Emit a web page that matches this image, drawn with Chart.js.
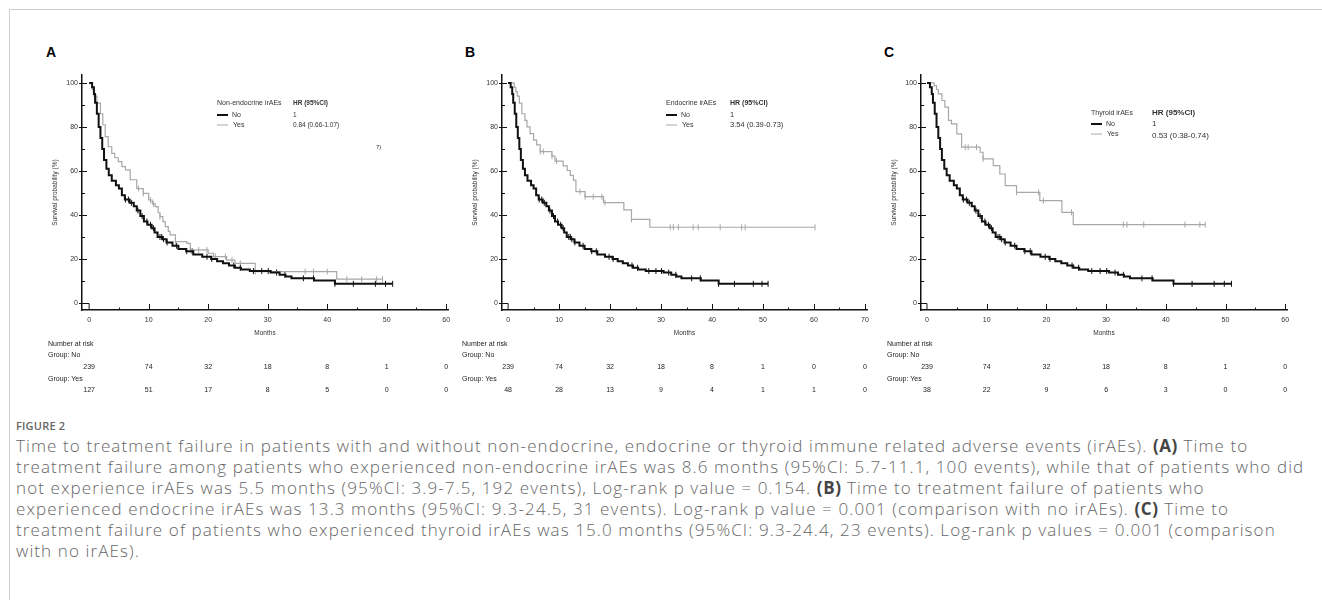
<!DOCTYPE html>
<html>
<head>
<meta charset="utf-8">
<script src="https://cdn.jsdelivr.net/npm/chart.js@4.4.0/dist/chart.umd.min.js"></script>
<style>
body { margin:0; background:#fff; width:1322px; height:600px; overflow:hidden; position:relative; font-family:"Liberation Sans", Arial, sans-serif; }
.moldura { position:absolute; left:9px; top:9px; width:1330px; height:600px; border-top:1px solid #d0d0d0; border-left:1px solid #d0d0d0; }
canvas { position:absolute; top:0; }
.letra { position:absolute; top:44px; font:bold 14px "Liberation Sans", Arial, sans-serif; color:#000; }
.figura { position:absolute; left:16px; top:418px; font:600 11px "Open Sans", sans-serif; color:#666; letter-spacing:0.2px; }
.legenda { position:absolute; left:16px; top:435px; font:300 17px "Open Sans", sans-serif; color:#666; line-height:21px; letter-spacing:1.1px; white-space:nowrap; }
.legenda b { color:#444; font-weight:700; letter-spacing:0.6px; }
</style>
</head>
<body>
<div class="moldura"></div>
<div class="letra" style="left:46px">A</div>
<div class="letra" style="left:465px">B</div>
<div class="letra" style="left:884px">C</div>
<canvas id="painelA" width="460" height="410" style="left:0px"></canvas>
<canvas id="painelB" width="420" height="410" style="left:460px"></canvas>
<canvas id="painelC" width="442" height="410" style="left:880px"></canvas>
<div class="figura">FIGURE 2</div>
<div class="legenda">
Time to treatment failure in patients with and without non-endocrine, endocrine or thyroid immune related adverse events (irAEs). <b>(A)</b> Time to<br>
treatment failure among patients who experienced non-endocrine irAEs was 8.6 months (95%CI: 5.7-11.1, 100 events), while that of patients who did<br>
not experience irAEs was 5.5 months (95%CI: 3.9-7.5, 192 events), Log-rank p value = 0.154. <b>(B)</b> Time to treatment failure of patients who<br>
experienced endocrine irAEs was 13.3 months (95%CI: 9.3-24.5, 31 events). Log-rank p value = 0.001 (comparison with no irAEs). <b>(C)</b> Time to<br>
treatment failure of patients who experienced thyroid irAEs was 15.0 months (95%CI: 9.3-24.4, 23 events). Log-rank p values = 0.001 (comparison<br>
with no irAEs).
</div>
<script>
// curva "No" (igual nos tres paineis)
var tempoNo = [0, 0.5, 0.8, 1.0, 1.3, 1.6, 1.9, 2.2, 2.5, 2.9, 3.3, 3.8, 4.5, 5.0, 5.5, 6.0, 6.8, 7.5, 8.0, 8.6, 9.2, 9.8, 10.5, 11.0, 11.5, 12.3, 13.0, 14.0, 15.0, 16.3, 17.5, 19.0, 20.5, 21.5, 22.5, 23.5, 24.5, 25.5, 27.0, 30.5, 32.0, 33.0, 34.0, 37.8, 41.3, 51.0]
var survNo = [100, 98, 95, 91, 86, 80, 75, 70, 65, 61, 58, 55.5, 53.5, 52, 49, 47, 45.5, 44, 42, 39.5, 37, 35.5, 34, 32, 30, 29, 27.5, 26, 24.5, 23.5, 22, 21, 20, 19, 18, 17, 16, 15.2, 14.5, 13.8, 12.8, 12, 11.2, 10.2, 8.7, 8.7]
var censNo = [6.1, 6.6, 7.1, 8.2, 8.9, 9.7, 10.3, 10.8, 11.9, 12.2, 12.5, 13.1, 14.7, 16.4, 17.3, 19.8, 20.6, 24.3, 25.4, 27.6, 29.0, 30.1, 31.5, 32.9, 36.0, 37.7, 41.3, 44.4, 48.1, 49.8, 51.0]

// A: non-endocrine irAEs
var tempoYesA = [0, 0.5, 0.8, 1.3, 1.9, 2.3, 2.7, 3.2, 3.8, 4.3, 4.9, 5.5, 6.1, 6.9, 8.0, 9.1, 10.0, 10.6, 11.1, 11.6, 11.9, 12.4, 12.8, 13.3, 13.6, 14.5, 16.4, 17.0, 20.0, 20.9, 23.1, 24.5, 27.9, 41.6, 49.3]
var survYesA = [100, 97, 94, 90.8, 86, 81, 75.6, 71, 68, 66, 64.2, 62, 60.5, 56, 52, 49.8, 46.8, 45, 43.8, 41, 39.2, 37, 34.7, 32.5, 30.9, 27.9, 27.1, 24.1, 22.6, 21.1, 19.5, 18, 14.2, 10.8, 10.8]
var censYesA = [8.3, 9.1, 10.3, 10.8, 11.9, 14.5, 17.0, 18.4, 19.8, 21.2, 22.9, 24.0, 25.4, 27.9, 36.3, 37.7, 40.0, 43.3, 45.8, 48.3, 49.3]

// B: endocrine irAEs
var tempoYesB = [0, 1.2, 1.5, 1.8, 2.2, 2.7, 3.3, 3.7, 4.3, 5.0, 5.6, 6.3, 8.6, 9.2, 10.8, 11.6, 12.2, 12.8, 13.3, 15.1, 18.7, 22.7, 24.2, 27.8, 60.2]
var survYesB = [100, 98, 96, 94, 90.8, 86, 83, 80, 77, 74, 71.8, 68.8, 66.7, 64.5, 62.3, 60.2, 58, 55.8, 50.6, 48.3, 45.6, 42.3, 38, 34.4, 34.4]
var censYesB = [6.3, 6.9, 8.6, 9.5, 14.1, 15.1, 16.7, 18.4, 19.0, 24.2, 31.8, 32.4, 33.4, 36.3, 37.3, 41.6, 45.8, 46.5, 60.2]

// C: thyroid irAEs
var tempoYesC = [0, 1.2, 1.6, 1.9, 2.5, 3.0, 3.6, 4.1, 5.0, 5.8, 8.9, 9.4, 11.1, 12.2, 13.1, 15.0, 18.9, 22.6, 24.5, 46.6]
var survYesC = [100, 98.8, 97, 95, 92, 89, 83, 81.4, 76.8, 70.8, 68.5, 65.5, 62.4, 58.6, 53.3, 50.3, 46.5, 41.2, 35.6, 35.6]
var censYesC = [6.4, 6.9, 8.3, 9.4, 15.0, 18.7, 19.5, 24.2, 32.9, 33.5, 36.3, 43.2, 45.7, 46.6]

// number at risk
var riscoTempos = [0, 10, 20, 30, 40, 50, 60]
var riscoTemposB = [0, 10, 20, 30, 40, 50, 60, 70]
var riscoNo = [239, 74, 32, 18, 8, 1, 0]
var riscoNoB = [239, 74, 32, 18, 8, 1, 0, 0]
var riscoYesA = [127, 51, 17, 8, 5, 0, 0]
var riscoYesB = [48, 28, 13, 9, 4, 1, 1, 0]
var riscoYesC = [38, 22, 9, 6, 3, 0, 0]

var ticksX = [0, 10, 20, 30, 40, 50, 60]
var ticksXB = [0, 10, 20, 30, 40, 50, 60, 70]
var ticksY = [0, 20, 40, 60, 80, 100]

function pares(ts, ss) {
    var out = []
    for (var i = 0; i < ts.length; i++) out.push({x: ts[i], y: ss[i]})
    return out
}

// valor da curva no tempo da censura (degrau)
function censuras(ts, ss, cs) {
    var out = []
    for (var j = 0; j < cs.length; j++) {
        var v = ss[0]
        for (var i = 0; i < ts.length; i++) if (ts[i] <= cs[j]) v = ss[i]
        out.push({x: cs[j], y: v})
    }
    return out
}

function linha(ctx, x1, y1, x2, y2) {
    ctx.beginPath(); ctx.moveTo(x1, y1); ctx.lineTo(x2, y2); ctx.stroke()
}

var kmPlugin = {
    id: 'km',
    afterDraw: function(chart) {
        var o = chart.options.plugins.km
        var ctx = chart.ctx
        var sx = chart.scales.x, sy = chart.scales.y
        var a = chart.chartArea
        ctx.save()
        ctx.strokeStyle = '#111'
        ctx.lineWidth = 1
        // ticks
        for (var t = 5; t <= sx.max; t += 5) {
            var px = Math.round(sx.getPixelForValue(t)) + 0.5
            linha(ctx, px, a.bottom, px, a.bottom - (t % 10 == 0 ? 6 : 2.5))
        }
        for (var v = 10; v <= 100; v += 10) {
            var py = Math.round(sy.getPixelForValue(v)) + 0.5
            if (v % 20 == 0) linha(ctx, a.left - 3, py, a.left + 5, py)
            else linha(ctx, a.left, py, a.left + 3, py)
        }
        // canto do zero
        var x0 = sx.getPixelForValue(0), y0 = Math.round(sy.getPixelForValue(0)) + 0.5
        linha(ctx, a.left - 3, y0, x0, y0)
        linha(ctx, x0, y0, x0, a.bottom)

        // legenda
        var L = o.leg
        ctx.fillStyle = '#333'
        ctx.textBaseline = 'middle'
        ctx.textAlign = 'left'
        ctx.font = L.fs + 'px "Liberation Sans"'
        ctx.fillText(L.titulo, L.x, L.y0)
        ctx.fillText('No', L.x + 15, L.y1)
        ctx.fillText('Yes', L.x + 16, L.y2)
        ctx.lineWidth = 2
        ctx.strokeStyle = '#111'
        linha(ctx, L.x, L.y1, L.x + 11, L.y1)
        ctx.lineWidth = 1
        ctx.strokeStyle = '#aaa'
        linha(ctx, L.x, L.y2, L.x + 11, L.y2)
        ctx.font = 'bold ' + L.hfs + 'px "Liberation Sans"'
        ctx.fillText('HR (95%CI)', L.hx, L.y0)
        ctx.font = L.vfs + 'px "Liberation Sans"'
        ctx.fillText('1', L.hx, L.y1)
        ctx.fillText(L.hr, L.hx, L.y2 + L.dv)
        if (o.extra) {
            ctx.font = '6px "Liberation Sans"'
            ctx.fillText(o.extra, o.extraX, o.extraY)
        }

        // number at risk
        ctx.fillStyle = '#222'
        ctx.font = '7px "Liberation Sans"'
        ctx.fillText('Number at risk', o.rx, 344)
        ctx.fillText('Group: No', o.rx, 355)
        ctx.fillText('Group: Yes', o.rx, 379)
        ctx.textAlign = 'center'
        for (var i = 0; i < o.rt.length; i++) {
            var xx = sx.getPixelForValue(o.rt[i])
            ctx.fillText(String(o.rNo[i]), xx, 367)
            ctx.fillText(String(o.rYes[i]), xx, 390)
        }
        ctx.restore()
    }
}

function criarPainel(id, cfg) {
    new Chart(document.getElementById(id), {
        type: 'line',
        data: {
            datasets: [
                {label: 'No', data: pares(tempoNo, survNo), stepped: true, borderColor: '#111', borderWidth: 2, pointRadius: 0, fill: false},
                {label: 'Yes', data: pares(cfg.tYes, cfg.sYes), stepped: true, borderColor: '#a8a8a8', borderWidth: 1.2, pointRadius: 0, fill: false},
                {label: 'cNo', data: censuras(tempoNo, survNo, censNo), showLine: false, pointStyle: 'line', rotation: 90, pointRadius: 3, borderColor: '#111', borderWidth: 1},
                {label: 'cYes', data: censuras(cfg.tYes, cfg.sYes, cfg.cYes), showLine: false, pointStyle: 'line', rotation: 90, pointRadius: 3, borderColor: '#a8a8a8', borderWidth: 1}
            ]
        },
        options: {
            animation: false,
            responsive: false,
            layout: {padding: {left: cfg.padL, top: 75, right: cfg.padR, bottom: 73}},
            plugins: {legend: {display: false}, tooltip: {enabled: false}, km: cfg},
            scales: {
                x: {
                    type: 'linear', min: cfg.xmin, max: cfg.xmax,
                    grid: {display: false, drawTicks: false},
                    border: {display: true, color: '#111', width: 1.5},
                    afterBuildTicks: function(s) { s.ticks = cfg.tx.map(function(v) { return {value: v} }) },
                    afterFit: function(s) { s.height = 27 },
                    ticks: {font: {size: 7, family: 'Liberation Sans'}, color: '#333', padding: 6, maxRotation: 0, autoSkip: false},
                    title: {display: true, text: 'Months', font: {size: 6.5, family: 'Liberation Sans'}, color: '#333', padding: 0}
                },
                y: {
                    min: -3.2, max: 103.6,
                    grid: {display: false, drawTicks: false},
                    border: {display: true, color: '#111', width: 1.5},
                    afterBuildTicks: function(s) { s.ticks = ticksY.map(function(v) { return {value: v} }) },
                    afterFit: function(s) { s.width = 31 },
                    ticks: {font: {size: 7, family: 'Liberation Sans'}, color: '#333', padding: 4},
                    title: {display: true, text: 'Survival probability (%)', font: {size: 6.5, family: 'Liberation Sans'}, color: '#333', padding: 0}
                }
            }
        },
        plugins: [kmPlugin]
    })
}

criarPainel('painelA', {
    tYes: tempoYesA, sYes: survYesA, cYes: censYesA,
    padL: 51, padR: 12, xmin: -1.2, xmax: 60.3, tx: ticksX,
    rt: riscoTempos, rNo: riscoNo, rYes: riscoYesA, rx: 48,
    leg: {titulo: 'Non-endocrine irAEs', x: 217, hx: 293, y0: 103, y1: 115, y2: 125, dv: 0, fs: 7, hfs: 6.5, vfs: 6.5, hr: '0.84 (0.66-1.07)'},
    extra: '7)', extraX: 376, extraY: 147
})
criarPainel('painelB', {
    tYes: tempoYesB, sYes: survYesB, cYes: censYesB,
    padL: 11, padR: 13, xmin: -1.2, xmax: 70.4, tx: ticksXB,
    rt: riscoTemposB, rNo: riscoNoB, rYes: riscoYesB, rx: 2,
    leg: {titulo: 'Endocrine irAEs', x: 206, hx: 270, y0: 103, y1: 115, y2: 125, dv: 0, fs: 7, hfs: 7, vfs: 7.5, hr: '3.54 (0.39-0.73)'}
})
criarPainel('painelC', {
    tYes: tempoYesC, sYes: survYesC, cYes: censYesC,
    padL: 10, padR: 35, xmin: -1.0, xmax: 60.3, tx: ticksX,
    rt: riscoTempos, rNo: riscoNo, rYes: riscoYesC, rx: 7,
    leg: {titulo: 'Thyroid irAEs', x: 211, hx: 272, y0: 113, y1: 124, y2: 134, dv: 2, fs: 7, hfs: 8, vfs: 8, hr: '0.53 (0.38-0.74)'}
})
</script>
</body>
</html>
